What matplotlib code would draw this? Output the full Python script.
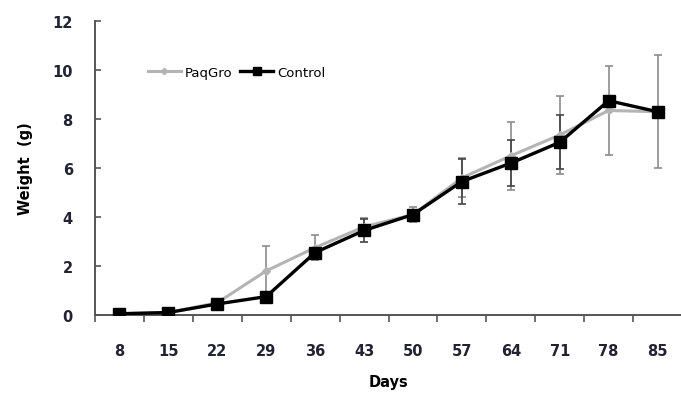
import matplotlib.pyplot as plt
import numpy as np

days = ['8', '15', '22', '29', '36', '43', '50', '57', '64', '71', '78', '85']
paqgro = [0.05, 0.1, 0.5, 1.8, 2.75, 3.6, 4.1, 5.6, 6.5, 7.35, 8.35, 8.3]
paqgro_err = [0.0, 0.0, 0.0, 1.0, 0.5, 0.35, 0.3, 0.8, 1.4, 1.6, 1.8, 2.3]
control = [0.05, 0.1, 0.45, 0.75, 2.55, 3.45, 4.1, 5.45, 6.2, 7.05, 8.75, 8.3]
control_err = [0.0, 0.0, 0.05, 0.1, 0.15, 0.45, 0.1, 0.9, 0.95, 1.1, 0.0, 0.0]

plt.rcParams['font.family'] = ['DejaVu Sans']

fig = plt.figure(figsize=(6.81, 4.02), dpi=100)
ax = fig.add_axes([0.1395, 0.214, 0.862, 0.731])

x = np.arange(len(days))

# error bars first, lines on top
ax.errorbar(x, paqgro, yerr=paqgro_err, fmt='none', ecolor='#8c8c8c',
            elinewidth=1.2, capsize=3, capthick=1.2, zorder=1)
ax.errorbar(x, control, yerr=control_err, fmt='none', ecolor='#444444',
            elinewidth=1.2, capsize=3, capthick=1.2, zorder=1)
ax.plot(x, paqgro, color='#b4b4b4', linewidth=2.2, marker='D', markersize=4,
        label='PaqGro', zorder=2)
ax.plot(x, control, color='black', linewidth=2.4, marker='s', markersize=8,
        label='Control', zorder=3)

ax.set_xlim(-0.5, 11.5)
ax.set_ylim(0, 12)
ax.set_xticks(x)
ax.set_xticklabels(days)
ax.set_xticks(np.arange(-0.5, 12, 1), minor=True)
ax.tick_params(axis='x', which='major', length=0, pad=20, labelsize=10.5)
ax.tick_params(axis='x', which='minor', length=5, direction='out', width=1.2, color='#555555')
ax.set_yticks([0, 2, 4, 6, 8, 10, 12])
ax.tick_params(axis='y', length=4, direction='in', width=1.2, color='#555555', pad=16, labelsize=10.5)
for lab in ax.get_xticklabels() + ax.get_yticklabels():
    lab.set_fontweight('bold')
    lab.set_color('#222233')

for s in ['top', 'right']:
    ax.spines[s].set_visible(False)
ax.spines['left'].set_color('#555555')
ax.spines['bottom'].set_color('#555555')
ax.spines['left'].set_linewidth(1.4)
ax.spines['bottom'].set_linewidth(1.4)

ax.set_xlabel('Days', fontweight='bold', fontsize=10.5, labelpad=12)
ax.set_ylabel('Weight  (g)', fontweight='bold', fontsize=10.5, labelpad=14)

ax.legend(loc='center left', bbox_to_anchor=(0.07, 0.826), ncol=2, frameon=False,
          fontsize=9.5, handlelength=2.5, columnspacing=0.6, handletextpad=0.3,
          markerscale=0.8)

fig.savefig('out.png', dpi=100)
